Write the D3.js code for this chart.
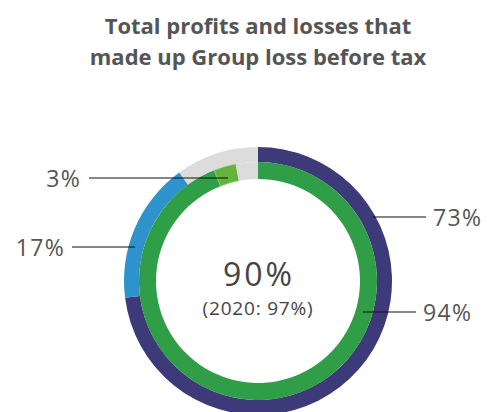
<!DOCTYPE html>
<html>
<head>
<meta charset="utf-8">
<script src="https://cdn.jsdelivr.net/npm/d3@7"></script>
<style>
  body { margin: 0; background: #fff; }
  svg { display: block; font-family: "Open Sans", sans-serif; }
</style>
</head>
<body>
<div class="chart"></div>
<script>
// data
var titleLines = ["Total profits and losses that", "made up Group loss before tax"];
var outerLabels = ["Profits", "Losses", "Other"];
var outerValues = [73, 17, 10];
var innerLabels = ["Profits", "Losses", "Other"];
var innerValues = [94, 3, 3];
var centreValue = "90%";
var centreNote = "(2020: 97%)";

var width = 487, height = 412;
var cx = 258, cy = 281;

var outerColors = ["#3c3a78", "#2e92cd", "#dcdcdc"];
var innerColors = ["#2f9e46", "#63b33d", "#dcdcdc"];

var svg = d3.select(".chart").append("svg")
  .attr("width", width)
  .attr("height", height);

svg.selectAll(".title")
  .data(titleLines)
  .enter().append("text")
  .attr("class", "title")
  .attr("x", cx)
  .attr("y", function(d, i) { return 34 + i * 31; })
  .attr("text-anchor", "middle")
  .attr("font-size", 22)
  .attr("font-weight", 700)
  .attr("fill", "#555")
  .text(function(d) { return d; });

var pie = d3.pie().sort(null).value(function(d) { return d; });

var g = svg.append("g").attr("transform", "translate(" + cx + "," + cy + ")");

var outerArc = d3.arc().innerRadius(119).outerRadius(134);
var innerArc = d3.arc().innerRadius(102).outerRadius(119);

var outerData = pie(outerValues);
var innerData = pie(innerValues);

g.selectAll(".outer")
  .data(outerData)
  .enter().append("path")
  .attr("class", "outer")
  .attr("d", outerArc)
  .attr("fill", function(d, i) { return outerColors[i]; });

g.selectAll(".inner")
  .data(innerData)
  .enter().append("path")
  .attr("class", "inner")
  .attr("d", innerArc)
  .attr("fill", function(d, i) { return innerColors[i]; })
  .attr("stroke", function(d, i) { return i == 1 ? "#9fd08a" : "none"; })
  .attr("stroke-width", 0.6);

// centre text
g.append("text")
  .attr("x", 1).attr("y", 5)
  .attr("text-anchor", "middle")
  .attr("font-size", 32)
  .attr("font-weight", 400)
  .attr("letter-spacing", 3)
  .attr("fill", "#444")
  .text(centreValue);

g.append("text")
  .attr("x", 0).attr("y", 34)
  .attr("text-anchor", "middle")
  .attr("font-size", 19)
  .attr("font-weight", 400)
  .attr("letter-spacing", 0.8)
  .attr("fill", "#444")
  .text(centreNote);

// callouts
var callouts = [
  { text: outerValues[0] + "%", x1: 373, x2: 426, y: 217, tx: 433, anchor: "start" },
  { text: innerValues[0] + "%", x1: 363, x2: 416, y: 312, tx: 423, anchor: "start" },
  { text: innerValues[1] + "%", x1: 228, x2: 89, y: 178, tx: 81, anchor: "end" },
  { text: outerValues[1] + "%", x1: 135, x2: 72, y: 247, tx: 65, anchor: "end" }
];

svg.selectAll(".leader")
  .data(callouts)
  .enter().append("line")
  .attr("class", "leader")
  .attr("x1", function(d) { return d.x1; })
  .attr("x2", function(d) { return d.x2; })
  .attr("y1", function(d) { return d.y; })
  .attr("y2", function(d) { return d.y; })
  .attr("stroke", "#111")
  .attr("stroke-width", 1.2);

svg.selectAll(".callout")
  .data(callouts)
  .enter().append("text")
  .attr("class", "callout")
  .attr("x", function(d) { return d.tx; })
  .attr("y", function(d) { return d.y + 8.5; })
  .attr("text-anchor", function(d) { return d.anchor; })
  .attr("font-size", 23)
  .attr("font-weight", 400)
  .attr("fill", "#555")
  .attr("letter-spacing", 1.3)
  .text(function(d) { return d.text; });
</script>
</body>
</html>
